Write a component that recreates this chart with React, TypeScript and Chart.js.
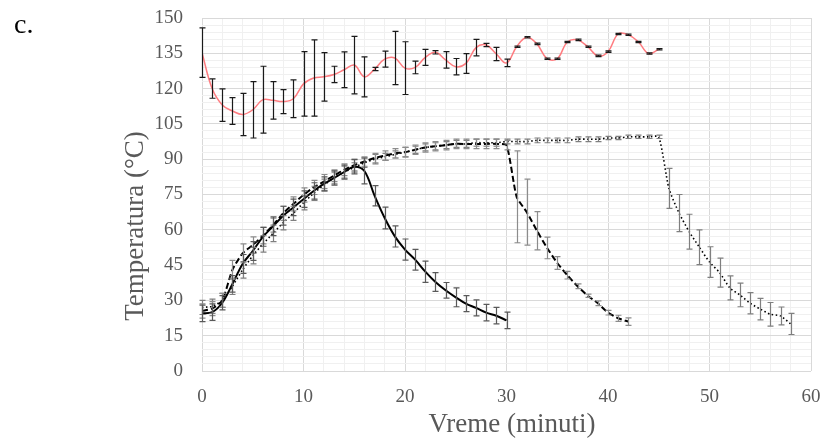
import React, { useEffect, useRef } from "react";
import { Chart, registerables } from "chart.js";

Chart.register(...registerables);

const FONT = '"Liberation Serif", "Times New Roman", serif';

// time axis (minutes)
const minutes = [
  0, 1, 2, 3, 4, 5, 6, 7, 8, 9, 10, 11, 12, 13, 14, 15, 16, 17, 18, 19,
  20, 21, 22, 23, 24, 25, 26, 27, 28, 29, 30, 31, 32, 33, 34, 35, 36, 37, 38, 39,
  40, 41, 42, 43, 44, 45, 46, 47, 48, 49, 50, 51, 52, 53, 54, 55, 56, 57, 58,
];

// red series (heater) t = 0..45
const redTemp = [
  135.3, 120, 113, 110.5, 109, 111, 115.3, 115, 114.5, 115.7, 122, 124.5, 125, 126, 128, 130,
  125, 128.3, 132.5, 133, 128.7, 129, 133.3, 135.4, 132.2, 129.3, 130.7, 137.4, 138.5, 134.7,
  130.9, 137.8, 141.8, 139, 132.7, 132.7, 139.8, 140.7, 137.8, 133.9, 135.7, 143.2, 142.9,
  139.8, 134.9, 136.7,
];
const redErr = [
  10.5, 4.1, 6.9, 5.7, 9, 12, 14.2, 8, 5.1, 8, 13.7, 16.2, 10.3, 3.5, 7.6, 12.2, 8.5, 0.7,
  3.4, 11.3, 11.2, 2.7, 3.4, 0.7, 3.5, 3.5, 4.2, 3.5, 0.7, 2.8, 1.6, 0.3, 0.3, 0.3, 0.3,
  0.3, 0.3, 0.3, 0.3, 0.3, 0.3, 0.3, 0.3, 0.3, 0.3, 0.3,
];

// solid series t = 0..30
const solidTemp = [
  24.5, 25, 29, 37, 45.5, 51, 57, 61.5, 66, 69.5, 73, 76.5, 79.5, 82, 84.5, 86.8, 85, 74.5,
  65, 57.2, 51.6, 47.3, 42.2, 37.8, 34.3, 31.3, 28.6, 26.8, 24.8, 23.5, 21.5,
];
const solidErr = [
  3.5, 3.5, 3, 3.5, 4, 4, 4, 4, 4, 3.5, 3.5, 3.5, 3, 3, 3, 3, 5.5, 4.3, 4.6, 4.5, 4.5, 4.4,
  4.5, 4, 3.3, 4, 3.4, 3.4, 3.5, 3.5, 3.5,
];

// dashed series t = 0..42
const dashedTemp = [
  25.5, 26.5, 30, 43, 50, 53.5, 57.5, 62, 67, 71, 74.8, 78, 80.5, 83, 85.5, 87.5, 89, 90.5,
  91.5, 92.5, 93, 94, 95, 95.5, 96, 96.5, 96.5, 96.5, 96.5, 96.5, 96, 74, 67.5, 59.6, 52.3,
  45.9, 40.7, 36, 32, 28.8, 24.8, 22.4, 21,
];
const dashedErr = [
  3, 3, 3, 4, 4, 3.5, 3.5, 3, 3, 3, 3, 3, 3, 2.5, 2.5, 2.5, 2, 2, 2, 2, 2, 2, 2, 2, 2, 2, 2,
  2, 2, 2, 2, 19.5, 14, 8.1, 4.6, 2.7, 1.6, 1, 0.7, 1, 1, 1.3, 1.6,
];

// dotted series t = 0..58
const dottedTemp = [
  27, 27.5, 30, 36, 43, 49, 54, 58.5, 63, 67, 71.5, 75.5, 79, 82, 84.5, 86.5, 88.5, 90, 91,
  92, 93, 94, 95, 95.5, 96, 96.5, 96.5, 97, 97, 97, 97.5, 97.5, 97.5, 98, 98, 98, 98, 98.5,
  98.5, 98.5, 99, 99, 99.5, 99.5, 99.5, 99.5, 77.6, 67.1, 59.2, 52.6, 46.3, 41.8, 35.3, 32.3,
  28.8, 26.3, 24.1, 23.4, 20,
];
const dottedErr = [
  3, 3, 3, 3.5, 3.5, 3.5, 3.5, 3.5, 3, 3, 3, 3, 2.5, 2.5, 2.5, 2, 2, 2, 1.5, 1.5, 2, 1.5, 1.5,
  1.5, 1.5, 1.5, 1.5, 1.5, 1.5, 1.5, 1, 1, 1, 1, 1, 1, 1, 1, 1, 1, 0.7, 0.7, 0.7, 0.7, 0.7,
  0.7, 8.5, 7.9, 7.4, 7.4, 6.5, 6.2, 5.1, 5, 4.5, 4.6, 5, 3.8, 4.5,
];

const xTickLabels = ["0", "10", "20", "30", "40", "50", "60"];
const yTickLabels = ["0", "15", "30", "45", "60", "75", "90", "105", "120", "135", "150"];

const panelLabel = "c.";
const xTitle = "Vreme (minuti)";
const yTitle = "Temperatura (°C)";

const pts = (vals: number[]) => vals.map((v, i) => ({ x: minutes[i], y: v }));

const errorSets = [
  { errs: dottedErr, color: "#7f7f7f" },
  { errs: dashedErr, color: "#8c8c8c" },
  { errs: solidErr, color: "#595959" },
  { errs: redErr, color: "#1a1a1a" },
];

const errorBarPlugin = {
  id: "errorBars",
  afterDatasetsDraw(chart: any) {
    const { ctx } = chart;
    const x = chart.scales.x;
    const y = chart.scales.y;
    chart.data.datasets.forEach((ds: any, di: number) => {
      const set = errorSets[di];
      if (!set) return;
      ctx.save();
      ctx.strokeStyle = set.color;
      ctx.lineWidth = 1.2;
      ctx.setLineDash([]);
      ds.data.forEach((p: any, i: number) => {
        const e = set.errs[i];
        const px = Math.round(x.getPixelForValue(p.x)) + 0.5;
        const y1 = y.getPixelForValue(p.y - e);
        const y2 = y.getPixelForValue(p.y + e);
        ctx.beginPath();
        ctx.moveTo(px, y1);
        ctx.lineTo(px, y2);
        ctx.moveTo(px - 3, y1);
        ctx.lineTo(px + 3, y1);
        ctx.moveTo(px - 3, y2);
        ctx.lineTo(px + 3, y2);
        ctx.stroke();
      });
      ctx.restore();
    });
  },
};

const textPlugin = {
  id: "texts",
  afterDraw(chart: any) {
    const { ctx } = chart;
    ctx.save();
    ctx.fillStyle = "#000000";
    ctx.font = `28px ${FONT}`;
    ctx.textAlign = "left";
    ctx.textBaseline = "alphabetic";
    ctx.fillText(panelLabel, 14, 33);

    ctx.fillStyle = "#595959";
    ctx.font = `27px ${FONT}`;
    ctx.textAlign = "center";
    ctx.textBaseline = "middle";
    ctx.fillText(xTitle, 512, 425);

    ctx.translate(136, 226);
    ctx.rotate(-Math.PI / 2);
    ctx.fillText(yTitle, 0, 0);
    ctx.restore();
  },
};

export default function App() {
  const ref = useRef<HTMLCanvasElement | null>(null);

  useEffect(() => {
    document.body.style.margin = "0";
    const canvas = ref.current;
    if (!canvas) return;
    const chart = new Chart(canvas, {
      type: "line",
      data: {
        datasets: [
          {
            data: pts(dottedTemp),
            borderColor: "#000000",
            borderWidth: 1.6,
            borderDash: [1.5, 2.5],
            pointRadius: 0,
            tension: 0.2,
            fill: false,
          },
          {
            data: pts(dashedTemp),
            borderColor: "#000000",
            borderWidth: 2,
            borderDash: [6, 3],
            pointRadius: 0,
            tension: 0.2,
            fill: false,
          },
          {
            data: pts(solidTemp),
            borderColor: "#000000",
            borderWidth: 2,
            pointRadius: 0,
            tension: 0.35,
            fill: false,
          },
          {
            data: pts(redTemp),
            borderColor: "#ff7c80",
            borderWidth: 1.5,
            pointRadius: 0,
            tension: 0.4,
            fill: false,
          },
        ],
      },
      options: {
        responsive: false,
        animation: false,
        devicePixelRatio: 1,
        layout: { padding: { top: 18, right: 13, left: 0, bottom: 0 } },
        plugins: {
          legend: { display: false },
          tooltip: { enabled: false },
        },
        scales: {
          x: {
            type: "linear",
            min: 0,
            max: 60,
            afterFit: (s: any) => {
              s.height = 68;
              s.paddingLeft = 0;
              s.paddingRight = 0;
            },
            ticks: {
              stepSize: 2,
              autoSkip: false,
              maxRotation: 0,
              padding: 15,
              color: "#595959",
              font: { family: FONT, size: 19 },
              callback: (v: any) => {
                const s = String(v);
                return xTickLabels.includes(s) ? s : "";
              },
            },
            grid: {
              drawTicks: false,
              color: (c: any) => (c.tick && c.tick.value % 10 === 0 ? "#d9d9d9" : "#f0f0f0"),
              lineWidth: 1,
            },
            border: { display: false },
          },
          y: {
            min: 0,
            max: 150,
            afterFit: (s: any) => {
              s.width = 202;
              s.paddingTop = 0;
              s.paddingBottom = 0;
            },
            ticks: {
              stepSize: 3,
              autoSkip: false,
              padding: 19,
              color: "#595959",
              font: { family: FONT, size: 19 },
              callback: (v: any) => {
                const s = String(v);
                return yTickLabels.includes(s) ? s : "";
              },
            },
            grid: {
              drawTicks: false,
              color: (c: any) => (c.tick && c.tick.value % 15 === 0 ? "#d9d9d9" : "#f0f0f0"),
              lineWidth: 1,
            },
            border: { display: false },
          },
        },
      },
      plugins: [errorBarPlugin, textPlugin],
    });
    return () => chart.destroy();
  }, []);

  return (
    <div style={{ width: 824, height: 439 }}>
      <canvas ref={ref} width={824} height={439} style={{ display: "block", width: 824, height: 439 }} />
    </div>
  );
}
